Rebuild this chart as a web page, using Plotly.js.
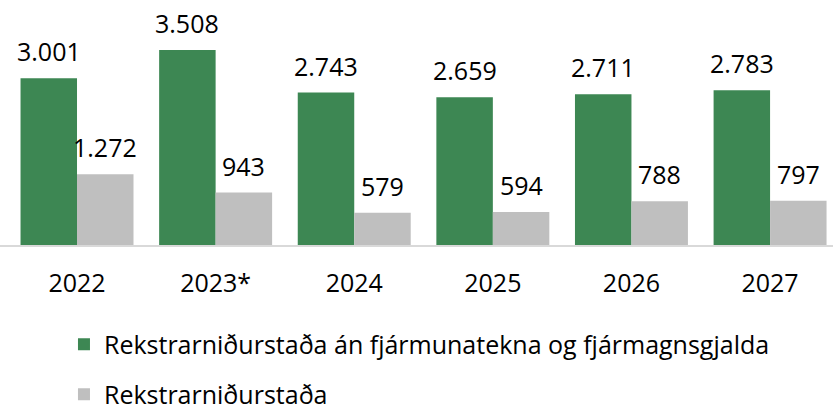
<!DOCTYPE html>
<html>
<head>
<meta charset="utf-8">
<script src="https://cdn.plot.ly/plotly-3.0.1.min.js"></script>
<style>html,body{margin:0;padding:0;background:#fff;}#chart{width:833px;height:407px;}</style>
</head>
<body>
<div id="chart"></div>
<script>
const categories = ['2022', '2023*', '2024', '2025', '2026', '2027'];
const seriesNames = ['Rekstrarniðurstaða án fjármunatekna og fjármagnsgjalda', 'Rekstrarniðurstaða'];
const operatingBeforeFinance = [3001, 3508, 2743, 2659, 2711, 2783];
const operatingResult = [1272, 943, 579, 594, 788, 797];
const seriesColors = ['#3D8753', '#BFBFBF'];

const fmt = v => String(v).replace(/\B(?=(\d{3})+(?!\d))/g, '.');
const FONT = '"Open Sans", Lato, sans-serif';
const FS = 25;

const allSeries = [operatingBeforeFinance, operatingResult];
const legendIds = ['legend', 'legend2'];
const traces = allSeries.map((vals, k) => ({
  type: 'bar',
  name: seriesNames[k],
  x: categories,
  y: vals,
  marker: {color: seriesColors[k]},
  legend: legendIds[k],
  hoverinfo: 'skip'
}));

const annotations = [];
allSeries.forEach((vals, k) => {
  vals.forEach((v, i) => {
    annotations.push({
      x: i, y: v, xref: 'x', yref: 'y',
      text: fmt(v), showarrow: false,
      xshift: k === 0 ? -28.3 : 28.3,
      yanchor: 'middle', yshift: 27,
      font: {family: FONT, size: FS, color: '#000'}
    });
  });
});

const legendBase = {
  orientation: 'v', x: 0.0768, xanchor: 'left', yanchor: 'middle',
  font: {family: FONT, size: FS, color: '#000'},
  bgcolor: 'rgba(0,0,0,0)', borderwidth: 0
};

const layout = {
  width: 833, height: 407,
  margin: {l: 0, r: 0, t: 0, b: 162, pad: 0, autoexpand: false},
  paper_bgcolor: '#fff', plot_bgcolor: '#fff',
  barmode: 'group', bargap: 0.185, bargroupgap: 0,
  font: {family: FONT, size: FS, color: '#000'},
  xaxis: {
    type: 'category',
    range: [-0.5556, 5.454],
    showline: true, linecolor: '#D9D9D9', linewidth: 2,
    ticks: '', showgrid: false, zeroline: false,
    ticklabelstandoff: 15,
    tickfont: {family: FONT, size: FS, color: '#000'},
    automargin: false,
    fixedrange: true
  },
  yaxis: {
    range: [0, 4407], visible: false, showgrid: false, zeroline: false, fixedrange: true
  },
  showlegend: true,
  legend: Object.assign({}, legendBase, {y: -0.406}),
  legend2: Object.assign({}, legendBase, {y: -0.610}),
  annotations: annotations
};

Plotly.newPlot('chart', traces, layout, {displayModeBar: false, staticPlot: true});
</script>
</body>
</html>
